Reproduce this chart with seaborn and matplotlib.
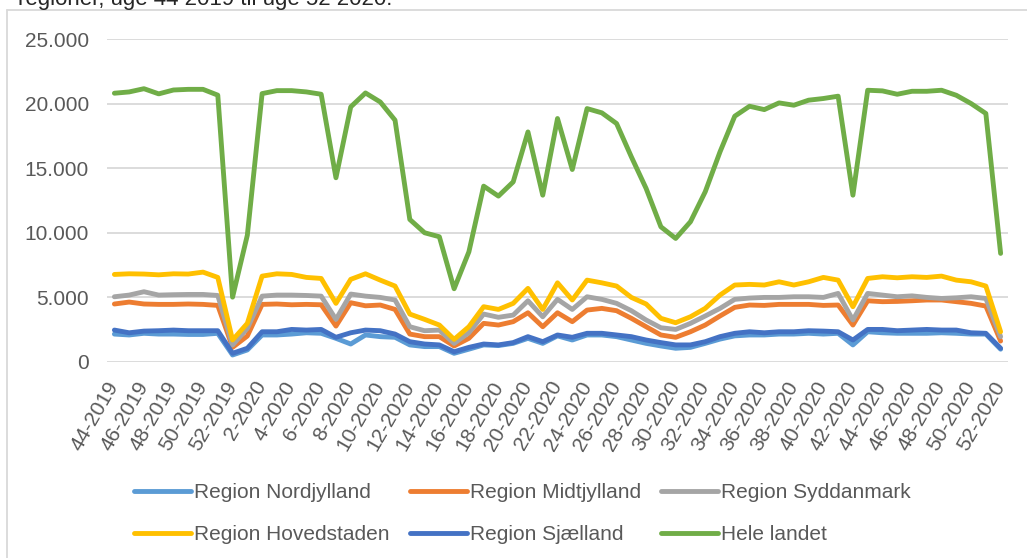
import numpy as np
import pandas as pd
import matplotlib
matplotlib.use("Agg")
import matplotlib.pyplot as plt
import seaborn as sns
from matplotlib.lines import Line2D
from matplotlib.ticker import FuncFormatter

# --- data ---
weeks = [f"{w}-2019" for w in range(44, 53)] + [f"{w}-2020" for w in range(1, 53)]

nordjylland = [2140, 2070, 2200, 2140, 2140, 2110, 2110, 2200, 520, 910,
               2070, 2070, 2140, 2240, 2200, 1810, 1370, 2070, 1940, 1890,
               1300, 1170, 1170, 650, 970, 1300, 1250, 1420, 1810, 1420,
               2000, 1680, 2070, 2070, 1940, 1680, 1420, 1220, 1040, 1110,
               1420, 1750, 2000, 2070, 2070, 2140, 2140, 2200, 2140, 2200,
               1300, 2320, 2240, 2200, 2200, 2200, 2240, 2200, 2140, 2140,
               970]
midtjylland = [4470, 4620, 4470, 4440, 4440, 4470, 4440, 4360, 1110, 1990,
               4440, 4470, 4410, 4440, 4410, 2760, 4570, 4330, 4390, 4050,
               2140, 1940, 1940, 1220, 1810, 2970, 2840, 3100, 3790, 2710,
               3790, 3100, 4000, 4130, 3950, 3360, 2710, 2070, 1890, 2320,
               2840, 3540, 4210, 4390, 4360, 4440, 4440, 4440, 4360, 4390,
               2840, 4720, 4650, 4670, 4720, 4780, 4780, 4650, 4520, 4310,
               1600]
syddanmark = [5030, 5160, 5420, 5160, 5190, 5210, 5210, 5130, 1290, 2580,
              5080, 5160, 5160, 5130, 5080, 3280, 5240, 5080, 4980, 4780,
              2710, 2400, 2450, 1420, 2240, 3690, 3440, 3610, 4720, 3480,
              4830, 4050, 5030, 4830, 4520, 3950, 3230, 2630, 2500, 2970,
              3540, 4130, 4830, 4930, 4980, 4980, 5030, 5030, 4980, 5290,
              3230, 5290, 5160, 5030, 5100, 4980, 4900, 4950, 5030, 4900,
              1940]
hovedstaden = [6760, 6810, 6790, 6730, 6810, 6790, 6940, 6530, 1680, 2970,
               6630, 6810, 6760, 6530, 6450, 4520, 6380, 6810, 6320, 5860,
               3690, 3280, 2840, 1730, 2710, 4260, 4050, 4520, 5680, 4050,
               6110, 4780, 6320, 6110, 5860, 4980, 4470, 3360, 3020, 3480,
               4130, 5160, 5940, 5990, 5940, 6190, 5940, 6190, 6530, 6320,
               4260, 6450, 6580, 6500, 6580, 6530, 6630, 6320, 6190, 5860,
               2320]
sjaelland = [2450, 2240, 2370, 2400, 2450, 2400, 2400, 2400, 650, 1040,
             2320, 2320, 2500, 2450, 2500, 1890, 2240, 2450, 2400, 2140,
             1550, 1370, 1300, 770, 1110, 1370, 1300, 1480, 1940, 1550,
             2070, 1890, 2200, 2200, 2070, 1940, 1680, 1480, 1300, 1300,
             1550, 1940, 2200, 2320, 2240, 2320, 2320, 2400, 2370, 2320,
             1680, 2500, 2500, 2400, 2450, 2500, 2450, 2450, 2240, 2200,
             1040]
hele_landet = [20800, 20900, 21150, 20750, 21050, 21100, 21100, 20650, 5000, 9800,
               20770, 21000, 21000, 20900, 20720, 14250, 19740, 20820, 20120, 18710,
               11020, 9990, 9680, 5650, 8510, 13600, 12830, 13930, 17800, 12900,
               18840, 14890, 19610, 19280, 18450, 15870, 13420, 10450, 9550, 10840,
               13160, 16250, 19020, 19790, 19530, 20050, 19870, 20260, 20390, 20570,
               12900, 21030, 20980, 20720, 20950, 20950, 21030, 20640, 20000, 19230,
               8390]

series = {
    "Region Nordjylland": nordjylland,
    "Region Midtjylland": midtjylland,
    "Region Syddanmark": syddanmark,
    "Region Hovedstaden": hovedstaden,
    "Region Sjælland": sjaelland,
    "Hele landet": hele_landet,
}
colors = {
    "Region Nordjylland": "#5B9BD5",
    "Region Midtjylland": "#ED7D31",
    "Region Syddanmark": "#A5A5A5",
    "Region Hovedstaden": "#FFC000",
    "Region Sjælland": "#4472C4",
    "Hele landet": "#70AD47",
}

# long format for seaborn
rows = []
for name, vals in series.items():
    for i, v in enumerate(vals):
        rows.append({"idx": i, "uge": weeks[i], "antal": v, "serie": name})
df = pd.DataFrame(rows)

sns.set_theme(style="white")
plt.rcParams["font.family"] = ["Liberation Sans", "DejaVu Sans"]
txt_color = "#595959"

fig = plt.figure(figsize=(10.27, 5.58), dpi=100)
ax = fig.add_axes([0.1042, 0.3518, 0.8773, 0.5783])

sns.lineplot(data=df, x="idx", y="antal", hue="serie", hue_order=list(series.keys()),
             palette=colors, linewidth=3.5, legend=False, ax=ax, sort=False)
for ln in ax.get_lines():
    ln.set_solid_joinstyle("round")
    ln.set_solid_capstyle("round")

ax.set_xlim(-0.5, len(weeks) - 0.5)
ax.set_ylim(0, 25000)
ax.set_yticks(np.arange(0, 25001, 5000))
ax.yaxis.set_major_formatter(FuncFormatter(lambda v, p: f"{int(v):,}".replace(",", ".")))
ax.set_xticks(range(0, len(weeks), 2))
ax.set_xticklabels(weeks[::2], rotation=60, ha="right", va="center", rotation_mode="anchor")
ax.tick_params(axis="x", length=0, pad=15, labelsize=15, labelcolor=txt_color)
ax.tick_params(axis="y", length=0, pad=13, labelsize=15, labelcolor=txt_color)
ax.set_xlabel("")
ax.set_ylabel("")
ax.grid(axis="y", color="#D9D9D9", linewidth=1.3)
ax.set_axisbelow(True)
for s in ax.spines.values():
    s.set_visible(False)

# legend: 2 rows x 3 cols (column-major order)
order = ["Region Nordjylland", "Region Hovedstaden", "Region Midtjylland",
         "Region Sjælland", "Region Syddanmark", "Hele landet"]
handles = [Line2D([0], [0], color=colors[n], lw=3.5, solid_capstyle="round") for n in order]
fig.legend(handles, order, ncol=3, loc="upper left", bbox_to_anchor=(0.1305, 0.134),
           frameon=False, fontsize=15, labelcolor=txt_color, handlelength=2.75,
           handletextpad=0.15, columnspacing=0.95, labelspacing=1.1, borderaxespad=0,
           borderpad=0)

# outer chart frame (cut off by the crop on right/bottom)
fig.add_artist(Line2D([7 / 1027, 1.0], [1 - 10 / 558] * 2, transform=fig.transFigure,
                      color="#D9D9D9", lw=1.3))
fig.add_artist(Line2D([7 / 1027] * 2, [0.0, 1 - 10 / 558], transform=fig.transFigure,
                      color="#D9D9D9", lw=1.3))

# title, mostly cropped away at the top (as in the reference crop)
fig.text(18 / 1027, 1 - 5 / 558, "regioner, uge 44 2019 til uge 52 2020:",
         fontsize=16, color="#262626", va="baseline", ha="left")

fig.savefig("out.png", dpi=100)
